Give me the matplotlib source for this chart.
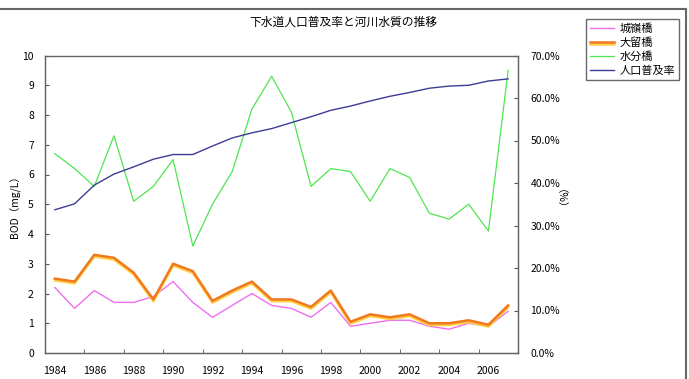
import matplotlib
matplotlib.use("Agg")
import matplotlib.pyplot as plt
import matplotlib.patheffects as pe
from matplotlib.lines import Line2D

plt.rcParams['font.family'] = ['Noto Sans CJK JP', 'DejaVu Sans']

years = list(range(1984, 2008))
shiromine = [2.2, 1.5, 2.1, 1.7, 1.7, 1.9, 2.4, 1.7, 1.2, 1.6, 2.0, 1.6,
             1.5, 1.2, 1.7, 0.9, 1.0, 1.1, 1.1, 0.9, 0.8, 1.0, 0.9, 1.4]
odome = [2.5, 2.4, 3.3, 3.2, 2.7, 1.8, 3.0, 2.75, 1.75, 2.1, 2.4, 1.8,
         1.8, 1.55, 2.1, 1.05, 1.3, 1.2, 1.3, 1.0, 1.0, 1.1, 0.95, 1.6]
mizuwake = [6.7, 6.2, 5.6, 7.3, 5.1, 5.6, 6.5, 3.6, 5.0, 6.1, 8.2, 9.3,
            8.1, 5.6, 6.2, 6.1, 5.1, 6.2, 5.9, 4.7, 4.5, 5.0, 4.1, 9.5]
fukyu = [33.7, 35.1, 39.5, 42.1, 43.8, 45.6, 46.7, 46.7, 48.7, 50.6, 51.8, 52.8,
         54.2, 55.6, 57.1, 58.1, 59.3, 60.4, 61.3, 62.3, 62.8, 63.0, 64.0, 64.5]
series_names = ['城嶺橋', '大留橋', '水分橋', '人口普及率']
title = '下水道人口普及率と河川水質の推移'

fig = plt.figure(figsize=(6.89, 3.79), dpi=100)
ax = fig.add_axes([45/689, 1-353/379, (518-45)/689, (353-55.5)/379])
ax2 = ax.twinx()

x = list(range(len(years)))
c_pink = '#f06ef0'
c_orange = '#f0781e'
c_green = '#4ee64e'
c_blue = '#3c3c96'

l1, = ax.plot(x, shiromine, color=c_pink, lw=1.0, zorder=3)
l2, = ax.plot(x, odome, color=c_orange, lw=1.8, zorder=4,
              path_effects=[pe.SimpleLineShadow(offset=(0, -1.3), shadow_color='#ffcc33', alpha=0.9),
                            pe.Normal()])
l3, = ax.plot(x, mizuwake, color=c_green, lw=0.9, zorder=3)
l4, = ax2.plot(x, fukyu, color=c_blue, lw=1.0, zorder=3)

ax.set_xlim(-0.5, len(years) - 0.5)
ax.set_ylim(0, 10)
ax2.set_ylim(0, 70)
ax.set_yticks(range(0, 11))
ax2.set_yticks(range(0, 71, 10))
ax2.set_yticklabels([f'{v:.1f}%' for v in range(0, 71, 10)])

ax.set_xticks(x[::2])
ax.set_xticklabels([str(y) for y in years[::2]])
ax.set_xticks([i + 1.5 for i in range(0, len(years) - 1, 2)], minor=True)
ax.tick_params(axis='x', which='major', length=0, pad=9, labelsize=7.5)
ax.tick_params(axis='x', which='minor', direction='in', length=3, color='#555555')
ax.tick_params(axis='y', direction='in', length=3, pad=8, labelsize=7.5, color='#555555')
ax2.tick_params(axis='y', direction='in', length=3, pad=9, labelsize=7.5, color='#555555')

for a in (ax, ax2):
    for s in a.spines.values():
        s.set_color('#666666')
        s.set_linewidth(0.9)
ax.spines['top'].set_color('#999999')

ax.set_ylabel('BOD（mg/L）', fontsize=7.5, labelpad=1)
ax2.set_ylabel('（%）', fontsize=7.5, rotation=270, labelpad=0)

fig.text(343/689, 1-22/379, title, ha='center', va='center', fontsize=8.5)

fig.legend([l1, l2, l3, l4], series_names, loc='upper left',
           bbox_to_anchor=(586/689, 1-19/379), fontsize=8, frameon=True,
           fancybox=False, edgecolor='#444444', borderpad=0.35, labelspacing=0.32,
           handlelength=2.2, handletextpad=0.5, borderaxespad=0)

fig.add_artist(Line2D([0, 686/689], [1-9/379, 1-9/379], color='#666666', lw=1.5, transform=fig.transFigure))
fig.add_artist(Line2D([686/689, 686/689], [0, 1-9/379], color='#666666', lw=1.5, transform=fig.transFigure))

fig.savefig('out.png', dpi=100)
